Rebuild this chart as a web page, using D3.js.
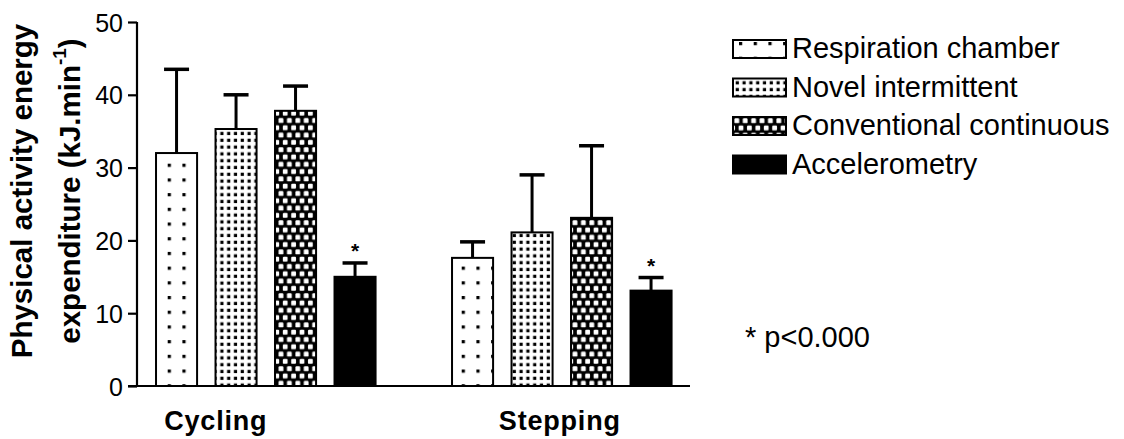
<!DOCTYPE html>
<html>
<head>
<meta charset="utf-8">
<script src="https://cdn.jsdelivr.net/npm/d3@7"></script>
<style>
  html, body { margin: 0; padding: 0; background: #fff; }
  svg { display: block; }
  text { font-family: "Liberation Sans", Arial, Helvetica, sans-serif; fill: #000; }
</style>
</head>
<body>
<svg id="chart" width="1124" height="439"></svg>
<script>
// ---- data ----
const categories = ["Cycling", "Stepping"];
const series = ["Respiration chamber", "Novel intermittent", "Conventional continuous", "Accelerometry"];
const meanCycling = [32.0, 35.3, 37.8, 15.0];
const sdCycling   = [11.5, 4.7, 3.4, 1.9];
const meanStepping = [17.6, 21.1, 23.1, 13.1];
const sdStepping   = [2.2, 7.9, 9.9, 1.8];
const significant = [false, false, false, true];
const yTicks = [0, 10, 20, 30, 40, 50];
const yTitle1 = "Physical activity energy";
const yTitle2 = "expenditure (kJ.min";
const yTitleSup = "-1";
const noteText = "* p<0.000";

const means = [meanCycling, meanStepping];
const sds = [sdCycling, sdStepping];
const rows = [];
categories.forEach((c, gi) => series.forEach((s, si) => rows.push({
  cat: c, ser: s, si, mean: means[gi][si], sd: sds[gi][si], sig: significant[si]
})));

const svg = d3.select("#chart");

// ---- patterns ----
const defs = svg.append("defs");
// sparse dots
let p = defs.append("pattern").attr("id", "pat0").attr("patternUnits", "userSpaceOnUse")
  .attr("width", 14.7).attr("height", 14.7).attr("x", 6).attr("y", 2);
p.append("rect").attr("width", 14.7).attr("height", 14.7).attr("fill", "#fff");
p.append("rect").attr("x", 0).attr("y", 0).attr("width", 3.2).attr("height", 3.2).attr("fill", "#000");
// dense dots
p = defs.append("pattern").attr("id", "pat1").attr("patternUnits", "userSpaceOnUse")
  .attr("width", 6.8).attr("height", 6.8).attr("x", 1).attr("y", 1);
p.append("rect").attr("width", 6.8).attr("height", 6.8).attr("fill", "#fff");
p.append("rect").attr("x", 1.7).attr("y", 1.7).attr("width", 3.2).attr("height", 3.2).attr("fill", "#000");
// checker (offset rows of white squares on black)
p = defs.append("pattern").attr("id", "pat2").attr("patternUnits", "userSpaceOnUse")
  .attr("width", 8.4).attr("height", 14.6).attr("x", 1).attr("y", 0);
p.append("rect").attr("width", 8.4).attr("height", 14.6).attr("fill", "#000");
p.append("rect").attr("x", 0.4).attr("y", 1.2).attr("width", 4.8).attr("height", 5.0).attr("rx", 1.2).attr("fill", "#fff");
p.append("rect").attr("x", 4.6).attr("y", 8.5).attr("width", 4.8).attr("height", 5.0).attr("rx", 1.2).attr("fill", "#fff");
p.append("rect").attr("x", -3.8).attr("y", 8.5).attr("width", 4.8).attr("height", 5.0).attr("rx", 1.2).attr("fill", "#fff");
const fills = ["url(#pat0)", "url(#pat1)", "url(#pat2)", "#000"];

// ---- scales ----
const y = d3.scaleLinear().domain([0, 50]).range([386, 22]);
const x0 = d3.scaleBand().domain(categories).range([146.8, 680.8]).paddingInner(0.196).paddingOuter(0);
const x1 = d3.scaleBand().domain(series).range([0, x0.bandwidth()]).paddingInner(0.31).paddingOuter(0.155);

// ---- y axis ----
const yAxis = d3.axisLeft(y).tickValues(yTicks).tickSize(9).tickPadding(5).tickFormat(d3.format("d"));
const gy = svg.append("g").attr("transform", "translate(137,0)").call(yAxis);
gy.select(".domain").attr("stroke", "#000").attr("stroke-width", 2.2).attr("d", `M0,${y(50)}V${y(0)}`);
gy.selectAll(".tick line").attr("stroke", "#000").attr("stroke-width", 2.2);
gy.selectAll(".tick text").attr("font-size", 25).attr("font-family", "Liberation Sans, Arial, sans-serif").attr("fill", "#000").attr("dy", "0.36em");

// x baseline
svg.append("line").attr("x1", 128).attr("x2", 690).attr("y1", y(0)).attr("y2", y(0))
  .attr("stroke", "#000").attr("stroke-width", 2.2);

// ---- bars ----
const gBars = svg.append("g");
const bx = d => x0(d.cat) + x1(d.ser);
gBars.selectAll("rect.bar").data(rows).join("rect").attr("class", "bar")
  .attr("x", bx).attr("width", x1.bandwidth())
  .attr("y", d => y(d.mean)).attr("height", d => y(0) - y(d.mean))
  .attr("fill", d => fills[d.si]).attr("stroke", "#000").attr("stroke-width", 2);

// error bars (upper only)
const capW = 25;
gBars.selectAll("line.err").data(rows).join("line").attr("class", "err")
  .attr("x1", d => bx(d) + x1.bandwidth() / 2).attr("x2", d => bx(d) + x1.bandwidth() / 2)
  .attr("y1", d => y(d.mean)).attr("y2", d => y(d.mean + d.sd))
  .attr("stroke", "#000").attr("stroke-width", 3);
gBars.selectAll("line.cap").data(rows).join("line").attr("class", "cap")
  .attr("x1", d => bx(d) + x1.bandwidth() / 2 - capW / 2).attr("x2", d => bx(d) + x1.bandwidth() / 2 + capW / 2)
  .attr("y1", d => y(d.mean + d.sd)).attr("y2", d => y(d.mean + d.sd))
  .attr("stroke", "#000").attr("stroke-width", 3.5);
// significance stars
gBars.selectAll("text.star").data(rows.filter(d => d.sig)).join("text").attr("class", "star")
  .attr("x", d => bx(d) + x1.bandwidth() / 2).attr("y", d => y(d.mean + d.sd) - 5)
  .attr("text-anchor", "middle").attr("font-size", 21).attr("font-weight", "bold").text("*");

// ---- category labels ----
const labelShift = { "Cycling": -50, "Stepping": -2 };
svg.selectAll("text.cat").data(categories).join("text").attr("class", "cat")
  .attr("x", d => x0(d) + x0.bandwidth() / 2 + labelShift[d]).attr("y", 430)
  .attr("text-anchor", "middle").attr("font-size", 27).attr("font-weight", "bold")
  .attr("letter-spacing", 0.8).text(d => d);

// ---- y title ----
const gt = svg.append("g").attr("transform", "translate(0,191) rotate(-90)");
gt.append("text").attr("x", 0).attr("y", 32).attr("text-anchor", "middle")
  .attr("font-size", 29.5).attr("font-weight", "bold").text(yTitle1);
const t2 = gt.append("text").attr("x", 0).attr("y", 80).attr("text-anchor", "middle")
  .attr("font-size", 29.5).attr("font-weight", "bold");
t2.append("tspan").text(yTitle2);
t2.append("tspan").attr("font-size", 19).attr("dy", -14).text(yTitleSup);
t2.append("tspan").attr("dy", 14).text(")");

// ---- legend ----
const lg = svg.append("g").attr("transform", "translate(733,40)");
const li = lg.selectAll("g").data(series).join("g").attr("transform", (d, i) => `translate(0,${i * 38.5})`);
li.append("rect").attr("width", 53).attr("height", 18)
  .attr("fill", (d, i) => fills[i]).attr("stroke", "#000").attr("stroke-width", 2);
li.append("text").attr("x", 59).attr("y", 18).attr("font-size", 29).text(d => d);

// note
svg.append("text").attr("x", 745).attr("y", 347).attr("font-size", 29).text(noteText);
</script>
</body>
</html>
